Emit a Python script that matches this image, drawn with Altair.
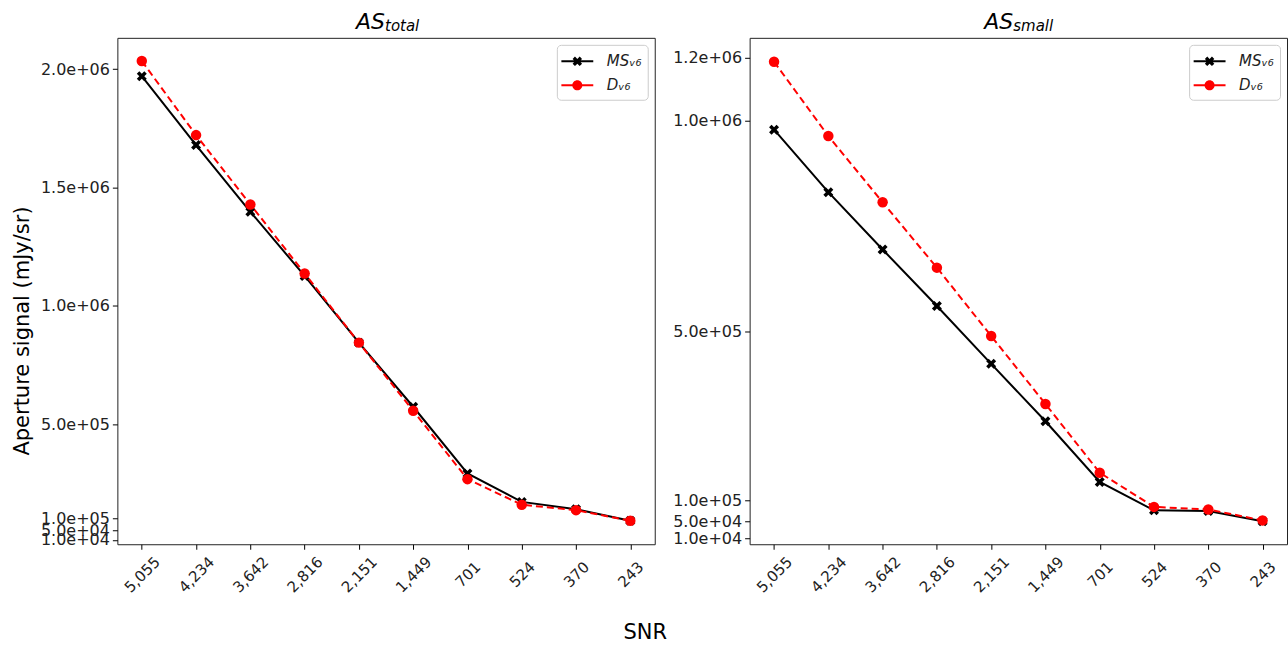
import altair as alt
import pandas as pd

# ---------------- data ----------------
snr = ["5,055", "4,234", "3,642", "2,816", "2,151", "1,449", "701", "524", "370", "243"]

total_ms = [1.970e6, 1.679e6, 1.397e6, 1.126e6, 0.844e6, 0.573e6, 0.291e6, 0.171e6, 0.140e6, 0.091e6]
total_d = [2.034e6, 1.721e6, 1.428e6, 1.136e6, 0.844e6, 0.556e6, 0.267e6, 0.159e6, 0.136e6, 0.091e6]

small_ms = [0.979e6, 0.831e6, 0.695e6, 0.561e6, 0.424e6, 0.288e6, 0.144e6, 0.077e6, 0.075e6, 0.051e6]
small_d = [1.140e6, 0.964e6, 0.807e6, 0.652e6, 0.490e6, 0.329e6, 0.166e6, 0.085e6, 0.079e6, 0.053e6]

series_labels = ["MS\u1d65\u2086", "D\u1d65\u2086"]
series_colors = ["black", "red"]

yticks_left = [1e4, 5e4, 1e5, 5e5, 1e6, 1.5e6, 2e6]
ylabels_left = ["1.0e+04", "5.0e+04", "1.0e+05", "5.0e+05", "1.0e+06", "1.5e+06", "2.0e+06"]
yticks_right = [1e4, 5e4, 1e5, 5e5, 1e6, 1.15e6]
ylabels_right = ["1.0e+04", "5.0e+04", "1.0e+05", "5.0e+05", "1.0e+06", "1.2e+06"]

FONT = "DejaVu Sans"
W, H = 538, 507

X_PTS = [(-1, -0.5), (-0.5, -1), (0, -0.5), (0.5, -1), (1, -0.5), (0.5, 0),
         (1, 0.5), (0.5, 1), (0, 0.5), (-0.5, 1), (-1, 0.5), (-0.5, 0)]


def x_path(s):
    return "M" + "L".join(f"{x*s:.3f},{y*s:.3f}" for x, y in X_PTS) + "Z"


X_PATH = x_path(1.0)
# legend symbols: size 441 -> half-size 10.5 px per unit
LINE_RECT = "M-1.52,-0.095L1.52,-0.095L1.52,0.095L-1.52,0.095Z"
LEG_MS = LINE_RECT + x_path(0.45)
r = 0.48
LEG_D = LINE_RECT + f"M{r},0A{r},{r} 0 1,1 {-r},0A{r},{r} 0 1,1 {r},0Z"


def label_expr(vals, labs):
    expr = "''"
    for v, l in reversed(list(zip(vals, labs))):
        expr = f"datum.value == {v} ? '{l}' : {expr}"
    return expr


def panel(ms, d, yticks, ylabels, ydomain, sub, title_x, left):
    df = pd.DataFrame({
        "snr": snr + snr,
        "value": ms + d,
        "series": [series_labels[0]] * len(snr) + [series_labels[1]] * len(snr),
    })
    if left:
        xaxis = alt.Axis(title="SNR", titleX=528, titleY=88, titleAlign="center",
                         titleBaseline="middle", titleFontSize=21, titleFontWeight="normal",
                         labelAngle=-45, labelAlign="center", labelBaseline="middle",
                         labelPadding=25, tickSize=5, labelFontSize=15)
        yaxis = alt.Axis(values=yticks, labelExpr=label_expr(yticks, ylabels),
                         title="Aperture signal (mJy/sr)", titleX=-95, titleY=293,
                         titleAngle=270, titleAlign="center", titleBaseline="middle",
                         titleFontSize=21, titleFontWeight="normal",
                         tickSize=5, labelPadding=3, labelFontSize=16, labelOverlap=False)
    else:
        xaxis = alt.Axis(title=None, labelAngle=-45, labelAlign="center", labelBaseline="middle",
                         labelPadding=25, tickSize=5, labelFontSize=15)
        yaxis = alt.Axis(values=yticks, labelExpr=label_expr(yticks, ylabels), title=None,
                         tickSize=5, labelPadding=3, labelFontSize=16, labelOverlap=False)

    x = alt.X("snr:N", sort=snr, scale=alt.Scale(type="point", padding=0.45), axis=xaxis)
    y = alt.Y("value:Q", scale=alt.Scale(domain=ydomain, nice=False, zero=False), axis=yaxis)
    base = alt.Chart(df).encode(x=x, y=y)

    ms_sel = alt.datum.series == series_labels[0]
    d_sel = alt.datum.series == series_labels[1]
    ms_line = base.transform_filter(ms_sel).mark_line(color="black", strokeWidth=2)
    ms_pts = base.transform_filter(ms_sel).mark_point(shape=X_PATH, filled=True, color="black",
                                                     size=100, opacity=1)
    d_line = base.transform_filter(d_sel).mark_line(color="red", strokeWidth=2, strokeDash=[7, 4])
    d_pts = base.transform_filter(d_sel).mark_point(shape="circle", filled=True, color="red",
                                                   size=110, opacity=1)

    leg = alt.Legend(title=None, orient="top-right", offset=7, padding=6, rowPadding=5,
                     symbolOffset=4, labelOffset=19, labelFontSize=15, labelFontStyle="italic",
                     labelFont=FONT, strokeColor="#cccccc", cornerRadius=4, fillColor="white",
                     symbolSize=441, symbolStrokeWidth=0)
    legend_layer = base.transform_filter("false").mark_point(filled=True, opacity=1).encode(
        color=alt.Color("series:N", scale=alt.Scale(domain=series_labels, range=series_colors),
                        legend=leg),
        shape=alt.Shape("series:N", scale=alt.Scale(domain=series_labels, range=[LEG_MS, LEG_D]),
                        legend=leg),
    )

    t_main = alt.Chart(pd.DataFrame({"t": ["AS"]})).mark_text(
        font=FONT, fontSize=22, fontStyle="italic", align="right", baseline="alphabetic",
        color="black").encode(x=alt.value(title_x), y=alt.value(-9), text="t:N")
    t_sub = alt.Chart(pd.DataFrame({"t": [sub]})).mark_text(
        font=FONT, fontSize=15, fontStyle="italic", align="left", baseline="alphabetic",
        color="black").encode(x=alt.value(title_x), y=alt.value(-6.5), text="t:N")

    return alt.layer(ms_line, ms_pts, d_line, d_pts, legend_layer, t_main, t_sub).properties(
        width=W, height=H)


left = panel(total_ms, total_d, yticks_left, ylabels_left, [-8000, 2.132e6], "total", 268, True)
right = panel(small_ms, small_d, yticks_right, ylabels_right, [-3500, 1.1967e6], "small", 264, False)

chart = alt.hconcat(left, right, spacing=4).resolve_scale(
    color="independent", shape="independent"
).resolve_legend(
    color="independent", shape="independent"
).properties(
    padding={"left": 10.5, "top": 9.5, "right": 0, "bottom": 0},
    background="white",
).configure_view(
    stroke="#222222", strokeWidth=1
).configure_axis(
    domain=False, grid=False, tickColor="black", labelColor="#222222",
    labelFont=FONT, titleFont=FONT, titleColor="black", labelBound=False, labelFlush=False,
).configure_legend(
    labelColor="#222222"
)

chart.save("out.html", embed_options={"renderer": "svg", "actions": False})
